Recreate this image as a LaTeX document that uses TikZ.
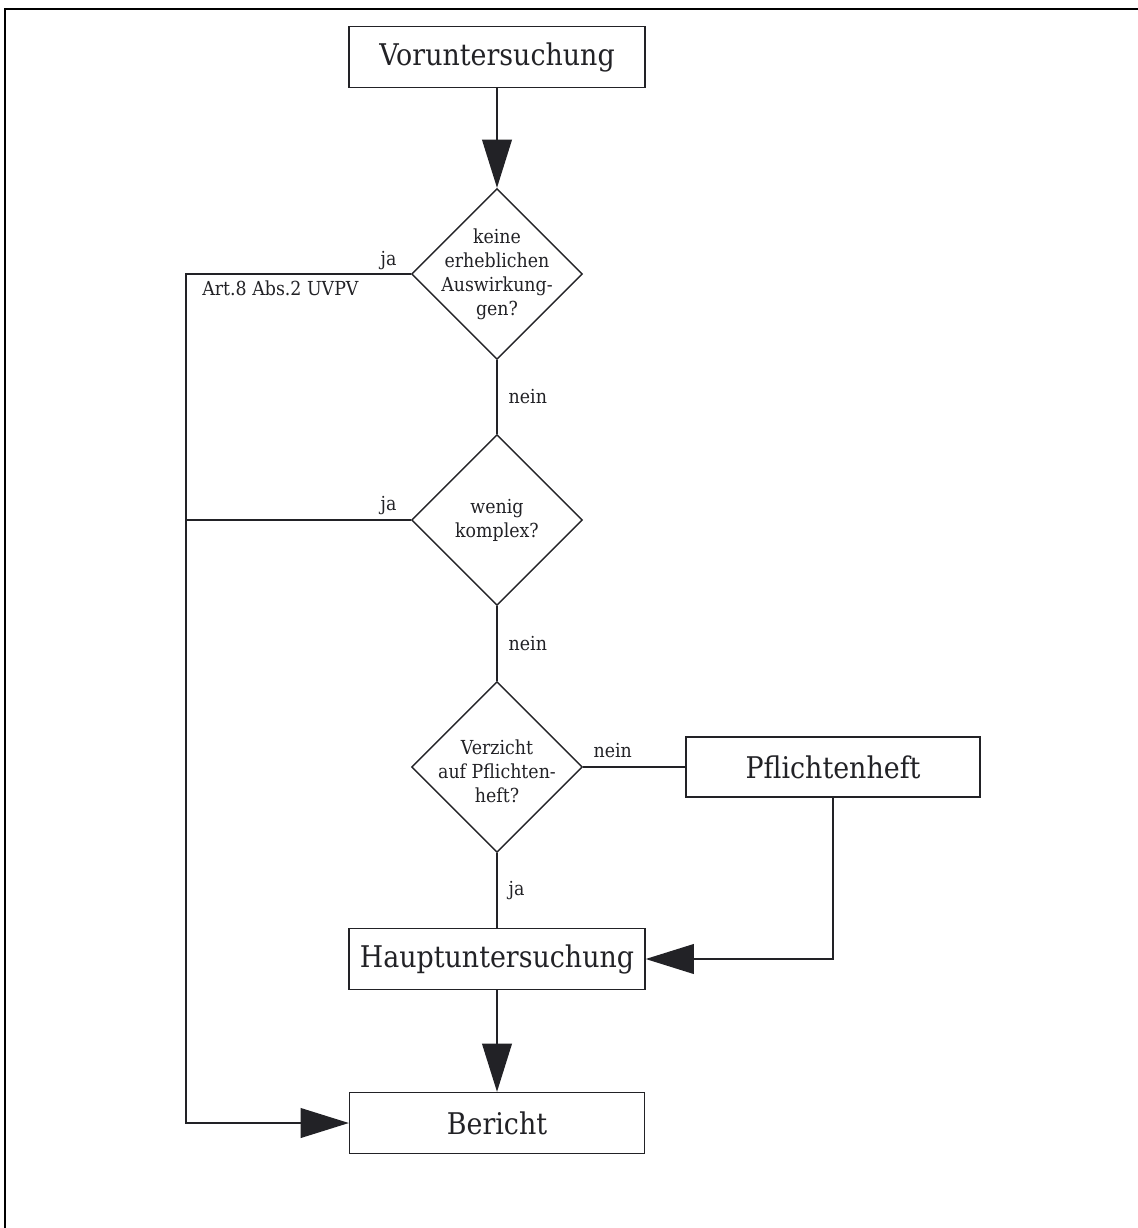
\documentclass[tikz,border=0pt]{standalone}
\usepackage{fontspec}
\setmainfont{DejaVu Serif}[FakeStretch=0.9]
\usetikzlibrary{shapes.geometric,arrows.meta}
\definecolor{ink}{HTML}{222226}
\tikzset{
  box/.style={draw=ink, line width=0.8pt, rectangle, minimum width=5.92cm, minimum height=1.22cm, inner sep=0pt, font=\fontsize{17}{20}\selectfont, text=ink},
  decision/.style={draw=ink, line width=0.8pt, diamond, minimum width=3.42cm, minimum height=3.42cm, inner sep=0pt},
  dtext/.style={align=center, font=\fontsize{11}{13.7}\selectfont, text=ink, inner sep=0pt},
  lbl/.style={font=\fontsize{11}{13.7}\selectfont, text=ink, inner sep=0pt},
  conn/.style={draw=ink, line width=0.8pt},
  arr/.style={conn, -{Triangle[length=27.5pt,width=17pt]}},
  frame/.style={draw=black, line width=1.3pt}
}
\begin{document}
\begin{tikzpicture}[x=0.02cm, y=-0.02cm]
\useasboundingbox (0,0) rectangle (1138,1228);
\draw[frame] (1138,9) -- (5,9) -- (5,1228);

\node[box] (v) at (497,57) {Voruntersuchung};
\node[decision, label={[dtext]center:{keine\\erheblichen\\Auswirkung-\\gen?}}] (d1) at (497,274) {};
\node[decision, label={[dtext]center:{wenig\\komplex?}}] (d2) at (497,520) {};
\node[decision, label={[dtext, yshift=-0.08cm]center:{Verzicht\\auf Pflichten-\\heft?}}] (d3) at (497,767) {};
\node[box, minimum width=5.88cm, minimum height=1.2cm] (p) at (833,767) {Pflichtenheft};
\node[box] (h) at (497,959) {Hauptuntersuchung};
\node[box, minimum width=5.9cm] (b) at (497,1123) {Bericht};

\coordinate (c1) at (186,274);
\coordinate (c3) at (186,1123);

\draw[arr] (v.south) -- (d1.north);
\draw[conn] (d1.south) -- node[lbl, right=0.22cm] {nein} (d2.north);
\draw[conn] (d2.south) -- node[lbl, right=0.22cm] {nein} (d3.north);
\draw[conn] (d3.south) -- node[lbl, right=0.22cm] {ja} (h.north);
\draw[conn] (d3.east) -- node[lbl, above=0.17cm, pos=0.29] {nein} (p.west);
\draw[arr] (p.south) |- (h.east);
\draw[arr] (h.south) -- (b.north);
\draw[arr] (d1.west) -- (c1) -- (c3) -- (b.west);
\draw[conn] (d2.west) -- (d2.west -| c1);

\node[lbl, anchor=base east] (ja1) at ([xshift=-0.28cm, yshift=0.18cm]d1.west) {ja};
\node[lbl, anchor=base east] (ja2) at ([xshift=-0.28cm, yshift=0.2cm]d2.west) {ja};
\node[lbl, anchor=base west] (art) at ([xshift=0.32cm, yshift=-0.42cm]c1) {Art.8 Abs.2 UVPV};
\end{tikzpicture}
\end{document}
